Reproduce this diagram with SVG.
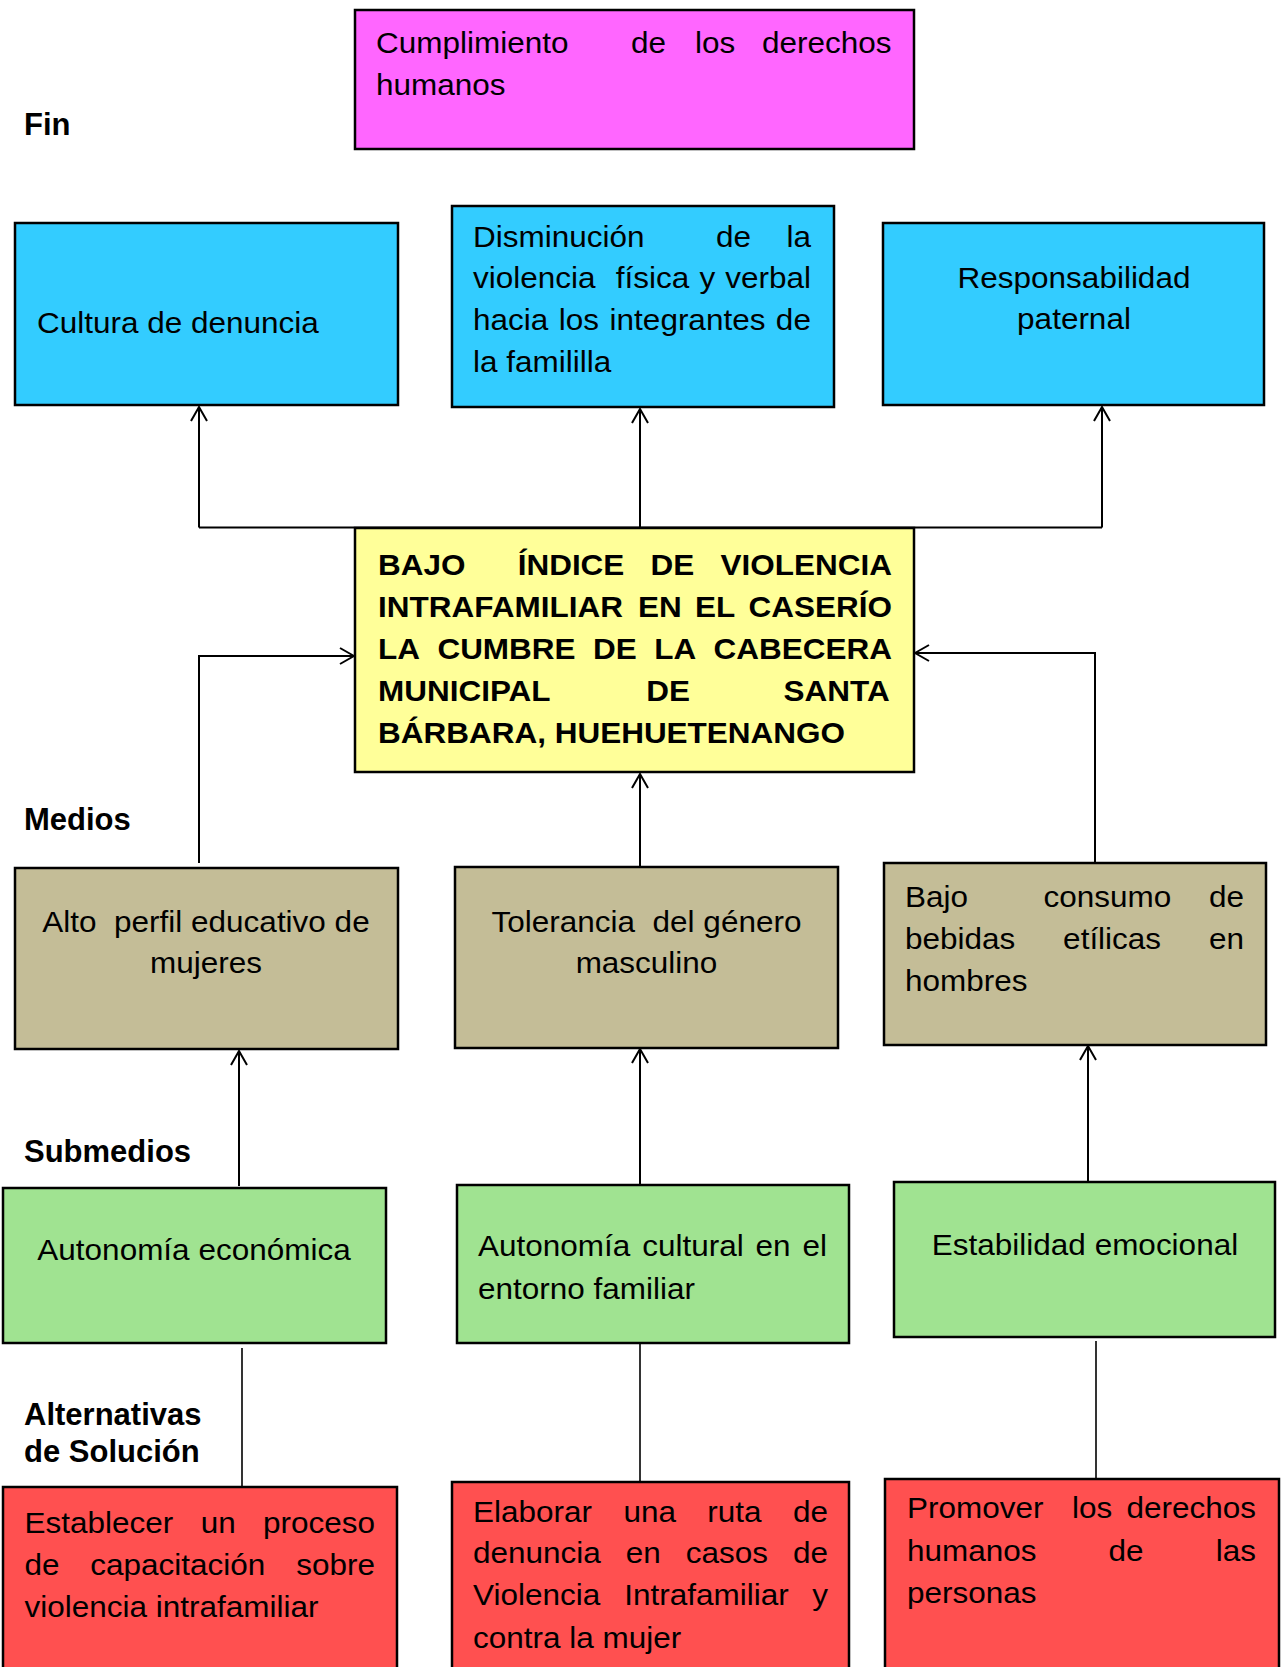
<svg xmlns="http://www.w3.org/2000/svg" width="1281" height="1667" viewBox="0 0 1281 1667">
<style>
.box{stroke:#000;stroke-width:2.5}
.mag{fill:#FF66FF}.cy{fill:#33CCFF}.ye{fill:#FFFF99}.tan{fill:#C4BD97}.gr{fill:#A0E391}.rd{fill:#FF5050}
.t{font-family:"Liberation Sans",Arial,sans-serif;font-size:29px;fill:#000}
.b{font-weight:bold}
.c{text-anchor:middle}
.lbl{font-family:"Liberation Sans",Arial,sans-serif;font-size:31px;font-weight:bold;fill:#000}
.ln{fill:none;stroke:#000;stroke-width:2}
.ln2{fill:none;stroke:#000;stroke-width:1.6}
</style>
<defs>
<marker id="ah" viewBox="0 0 16 18" refX="15" refY="9" markerWidth="16" markerHeight="18" markerUnits="userSpaceOnUse" orient="auto">
<path d="M1,1 L15,9 L1,17" fill="none" stroke="#000" stroke-width="2"/>
</marker>
</defs>
<rect width="1281" height="1667" fill="#fff"/>

<g id="labels">
<text class="lbl" x="24" y="135">Fin</text>
<text class="lbl" x="24" y="830">Medios</text>
<text class="lbl" x="24" y="1162">Submedios</text>
<text class="lbl" x="24" y="1425">Alternativas</text>
<text class="lbl" x="24" y="1462">de Solución</text>
</g>

<g id="connectors">
<path class="ln" d="M199,527.5 H1102"/>
<path class="ln" d="M199,527.5 V407" marker-end="url(#ah)"/>
<path class="ln" d="M640,527.5 V409" marker-end="url(#ah)"/>
<path class="ln" d="M1102,527.5 V407" marker-end="url(#ah)"/>
<path class="ln" d="M199,863 V656 H354" marker-end="url(#ah)"/>
<path class="ln" d="M640,866 V774" marker-end="url(#ah)"/>
<path class="ln" d="M1095,863 V653 H915" marker-end="url(#ah)"/>
<path class="ln" d="M239,1186 V1051" marker-end="url(#ah)"/>
<path class="ln" d="M640,1184 V1049" marker-end="url(#ah)"/>
<path class="ln" d="M1088,1187 V1046" marker-end="url(#ah)"/>
<path class="ln2" d="M242,1348 V1486"/>
<path class="ln2" d="M640,1344 V1481"/>
<path class="ln2" d="M1096,1341 V1479"/>
</g>

<g id="n-fin">
<rect class="box mag" x="355" y="10" width="559" height="139"/>
<text class="t" transform="translate(376,53) scale(1.086,1)"><tspan x="0">Cumplimiento</tspan><tspan x="234.8">de</tspan><tspan x="293.8">los</tspan><tspan x="355.5">derechos</tspan></text>
<text class="t" transform="translate(376,95) scale(1.086,1)">humanos</text>
</g>

<g id="n-cultura">
<rect class="box cy" x="15" y="223" width="383" height="182"/>
<text class="t" transform="translate(37,333) scale(1.086,1)">Cultura de denuncia</text>
</g>

<g id="n-disminucion">
<rect class="box cy" x="452" y="206" width="382" height="201"/>
<text class="t" transform="translate(473,247) scale(1.086,1)"><tspan x="0">Disminución</tspan><tspan x="223.8">de</tspan><tspan x="288.6">la</tspan></text>
<text class="t" transform="translate(473,288) scale(1.086,1)"><tspan x="0">violencia</tspan><tspan x="131.5">física</tspan><tspan x="208.5">y</tspan><tspan x="232.2">verbal</tspan></text>
<text class="t" transform="translate(473,330) scale(1.086,1)"><tspan x="0">hacia</tspan><tspan x="79">los</tspan><tspan x="125.8">integrantes</tspan><tspan x="278.9">de</tspan></text>
<text class="t" transform="translate(473,372) scale(1.086,1)">la famililla</text>
</g>

<g id="n-responsabilidad">
<rect class="box cy" x="883" y="223" width="381" height="182"/>
<text class="t c" transform="translate(1074,288) scale(1.086,1)">Responsabilidad</text>
<text class="t c" transform="translate(1074,329) scale(1.086,1)">paternal</text>
</g>

<g id="n-problema">
<rect class="box ye" x="355" y="528" width="559" height="244"/>
<text class="t b" transform="translate(378,575) scale(1.086,1)"><tspan x="0">BAJO</tspan><tspan x="128.6">ÍNDICE</tspan><tspan x="251">DE</tspan><tspan x="315.4">VIOLENCIA</tspan></text>
<text class="t b" transform="translate(378,617) scale(1.086,1)"><tspan x="0">INTRAFAMILIAR</tspan><tspan x="239.4">EN</tspan><tspan x="291.9">EL</tspan><tspan x="341.2">CASERÍO</tspan></text>
<text class="t b" transform="translate(378,659) scale(1.086,1)"><tspan x="0">LA</tspan><tspan x="54.7">CUMBRE</tspan><tspan x="198">DE</tspan><tspan x="254.3">LA</tspan><tspan x="309">CABECERA</tspan></text>
<text class="t b" transform="translate(378,701) scale(1.086,1)"><tspan x="0">MUNICIPAL</tspan><tspan x="247.1">DE</tspan><tspan x="373.4">SANTA</tspan></text>
<text class="t b" transform="translate(378,743) scale(1.086,1)">BÁRBARA, HUEHUETENANGO</text>
</g>

<g id="n-alto">
<rect class="box tan" x="15" y="868" width="383" height="181"/>
<text class="t c" xml:space="preserve" transform="translate(206,932) scale(1.086,1)">Alto  perfil educativo de</text>
<text class="t c" transform="translate(206,973) scale(1.086,1)">mujeres</text>
</g>

<g id="n-tolerancia">
<rect class="box tan" x="455" y="867" width="383" height="181"/>
<text class="t c" xml:space="preserve" transform="translate(646.5,932) scale(1.086,1)">Tolerancia  del género</text>
<text class="t c" transform="translate(646.5,973) scale(1.086,1)">masculino</text>
</g>

<g id="n-bajo">
<rect class="box tan" x="884" y="863" width="382" height="182"/>
<text class="t" transform="translate(905,907) scale(1.086,1)"><tspan x="0">Bajo</tspan><tspan x="127.5">consumo</tspan><tspan x="280">de</tspan></text>
<text class="t" transform="translate(905,949) scale(1.086,1)"><tspan x="0">bebidas</tspan><tspan x="145.6">etílicas</tspan><tspan x="280">en</tspan></text>
<text class="t" transform="translate(905,991) scale(1.086,1)">hombres</text>
</g>

<g id="n-autonomia-economica">
<rect class="box gr" x="3" y="1188" width="383" height="155"/>
<text class="t c" transform="translate(194,1260) scale(1.086,1)">Autonomía económica</text>
</g>

<g id="n-autonomia-cultural">
<rect class="box gr" x="457" y="1185" width="392" height="158"/>
<text class="t" transform="translate(478,1256) scale(1.086,1)"><tspan x="0">Autonomía</tspan><tspan x="151.2">cultural</tspan><tspan x="255.6">en</tspan><tspan x="298.8">el</tspan></text>
<text class="t" transform="translate(478,1299) scale(1.086,1)">entorno familiar</text>
</g>

<g id="n-estabilidad">
<rect class="box gr" x="894" y="1182" width="381" height="155"/>
<text class="t c" transform="translate(1085,1255) scale(1.086,1)">Estabilidad emocional</text>
</g>

<g id="n-establecer">
<rect class="box rd" x="3" y="1487" width="394" height="200"/>
<text class="t" transform="translate(24.5,1533) scale(1.086,1)"><tspan x="0">Establecer</tspan><tspan x="162.2">un</tspan><tspan x="219.6">proceso</tspan></text>
<text class="t" transform="translate(24.5,1575) scale(1.086,1)"><tspan x="0">de</tspan><tspan x="60.6">capacitación</tspan><tspan x="250.2">sobre</tspan></text>
<text class="t" transform="translate(24.5,1617) scale(1.086,1)">violencia intrafamiliar</text>
</g>

<g id="n-elaborar">
<rect class="box rd" x="452" y="1482" width="397" height="205"/>
<text class="t" transform="translate(473,1522) scale(1.086,1)"><tspan x="0">Elaborar</tspan><tspan x="138.5">una</tspan><tspan x="215.8">ruta</tspan><tspan x="294.7">de</tspan></text>
<text class="t" transform="translate(473,1563) scale(1.086,1)"><tspan x="0">denuncia</tspan><tspan x="140.7">en</tspan><tspan x="195.9">casos</tspan><tspan x="294.7">de</tspan></text>
<text class="t" transform="translate(473,1605) scale(1.086,1)"><tspan x="0">Violencia</tspan><tspan x="139.3">Intrafamiliar</tspan><tspan x="312.4">y</tspan></text>
<text class="t" transform="translate(473,1648) scale(1.086,1)">contra la mujer</text>
</g>

<g id="n-promover">
<rect class="box rd" x="885" y="1479" width="394" height="208"/>
<text class="t" transform="translate(907,1518) scale(1.086,1)"><tspan x="0">Promover</tspan><tspan x="151.9">los</tspan><tspan x="202.1">derechos</tspan></text>
<text class="t" transform="translate(907,1561) scale(1.086,1)"><tspan x="0">humanos</tspan><tspan x="185.6">de</tspan><tspan x="284.2">las</tspan></text>
<text class="t" transform="translate(907,1603) scale(1.086,1)">personas</text>
</g>
</svg>
